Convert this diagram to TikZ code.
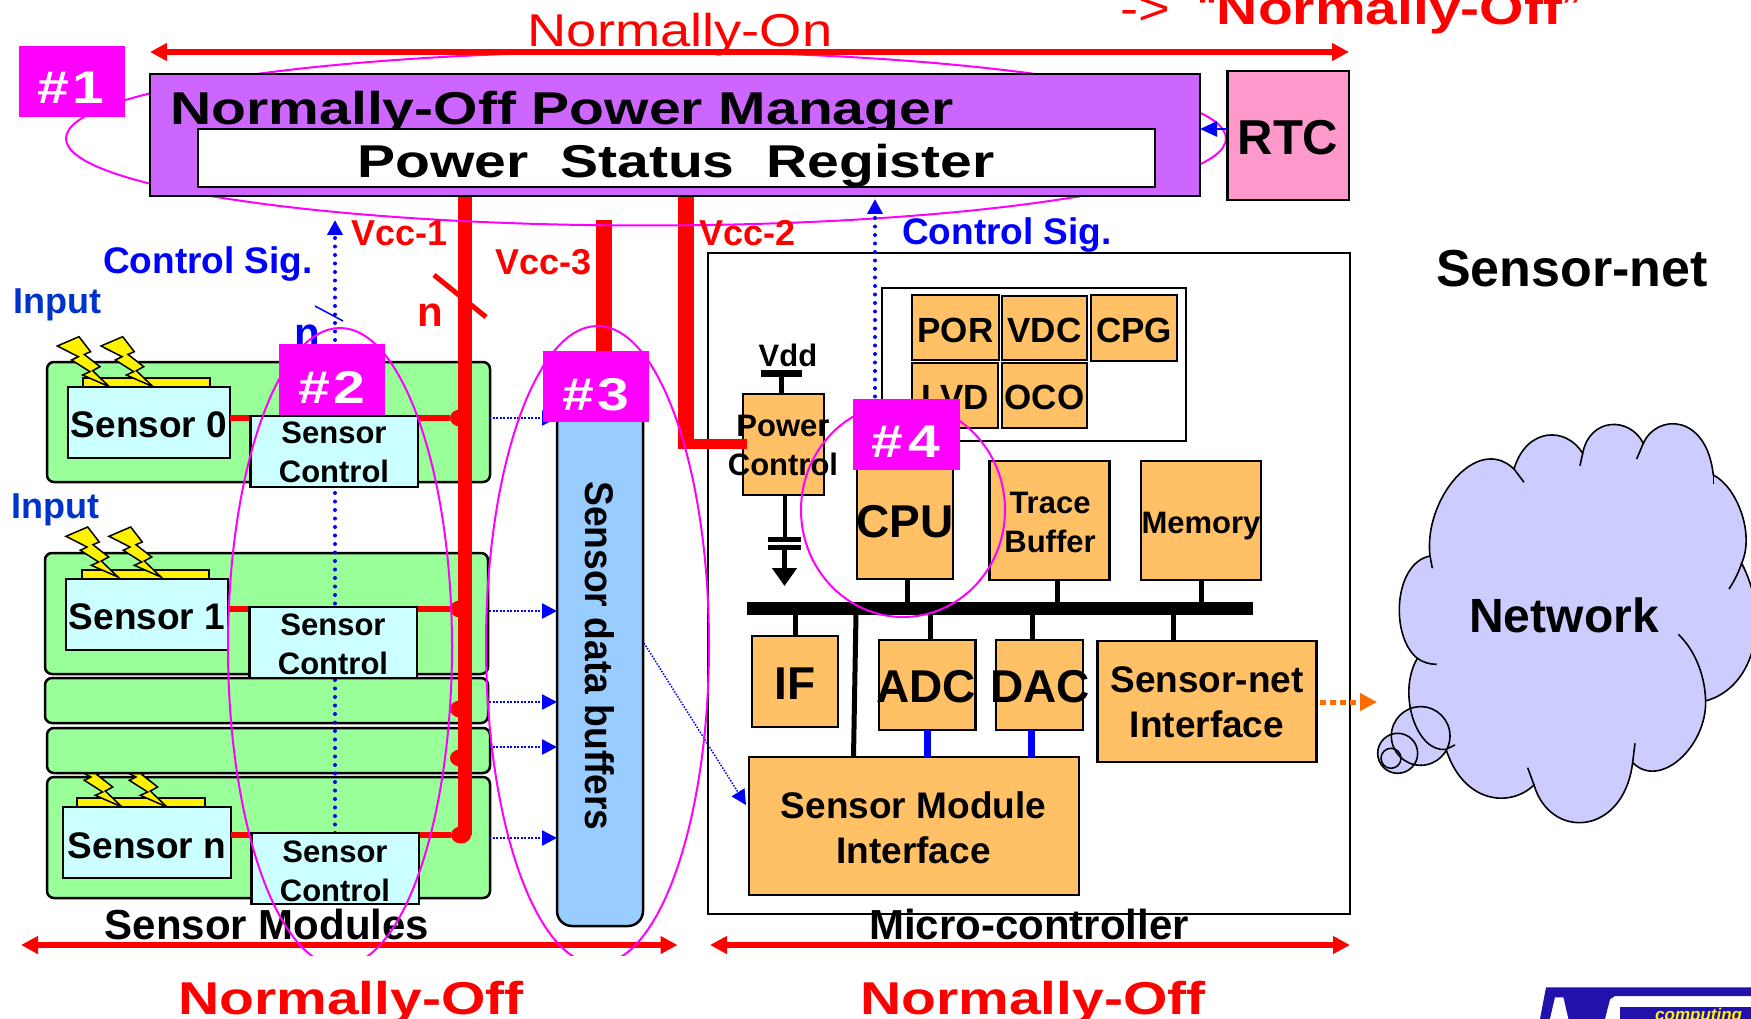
\documentclass[tikz,border=0pt]{standalone}
\usepackage{fontspec}
\setmainfont{Liberation Sans}
\newfontfamily\widefam[FakeStretch=1.24]{Liberation Sans}
\newfontfamily\thinfam[FakeStretch=1.18]{Liberation Sans}
\newfontfamily\narrowfam[FakeStretch=.93]{Liberation Sans}
\usetikzlibrary{arrows.meta,shapes.geometric}
\definecolor{hotmag}{RGB}{255,0,255}
\definecolor{pmfill}{RGB}{204,102,255}
\definecolor{rtcfill}{RGB}{255,153,204}
\definecolor{modfill}{RGB}{153,255,153}
\definecolor{senfill}{RGB}{204,255,255}
\definecolor{buffill}{RGB}{153,204,255}
\definecolor{blkfill}{RGB}{255,192,102}
\definecolor{netfill}{RGB}{204,204,255}
\definecolor{inblue}{RGB}{0,51,204}
\definecolor{logoblue}{RGB}{34,17,170}
\tikzset{
  bx/.style={draw=black,line width=2.5pt,inner sep=0pt,outer sep=0pt},
  modbox/.style={bx,fill=modfill,rounded corners=7pt},
  senbox/.style={bx,fill=senfill},
  blkbox/.style={bx,fill=blkfill},
  tagbox/.style={fill=hotmag,inner sep=0pt,outer sep=0pt},
  lab/.style={anchor=base,inner sep=0pt,outer sep=0pt,font=\bfseries\fontsize{37}{45}\selectfont},
  labsm/.style={lab,font=\bfseries\fontsize{31}{38.5}\selectfont},
  labpor/.style={lab,font=\bfseries\fontsize{35}{40}\selectfont},
  labbig/.style={lab,font=\bfseries\fontsize{46}{50}\selectfont},
  labwide/.style={lab,font=\widefam\bfseries\fontsize{46}{50}\selectfont},
  tagtxt/.style={labwide,text=white},
  vccline/.style={draw=red,line width=14pt},
  wire/.style={draw=red,line width=6pt},
  junct/.style={ellipse,fill=red,minimum width=20pt,minimum height=17pt,inner sep=0pt},
  redspan/.style={draw=red,line width=6pt,{Triangle[length=17pt,width=17pt]}-{Triangle[length=17pt,width=17pt]}},
  ctrlsig/.style={draw=blue,line width=4pt,line cap=round,dash pattern=on 0pt off 8.5pt,-{Triangle[length=15pt,width=15pt]}},
  dataline/.style={draw=blue,line width=2.5pt,dash pattern=on 2pt off 1.5pt,-{Triangle[length=15pt,width=15pt]}},
  stub/.style={draw=black,line width=5pt},
  halo/.style={draw=hotmag,line width=2pt},
  cloudln/.style={draw=black,line width=1.6pt},
  bolt/.pic={\draw[fill=yellow,line width=1.5pt,line join=miter] (-52,-40.7) -- (-30.3,-50) -- (-18.7,-35) -- (-25,-32.3) -- (-9.3,-20) -- (-16.7,-16) -- (0,0) -- (-26.7,-11.7) -- (-19.3,-15) -- (-37.7,-26.7) -- (-31,-30) -- cycle;}
}
\newcommand{\blk}[6]{\node[#1,minimum width={(#5-#3)*1pt},minimum height={(#6-#4)*1pt}] (#2) at ({(#3+#5)/2},{(#4+#6)/2}) {};}
\begin{document}
\begin{tikzpicture}[x=1pt,y=-1pt]
\useasboundingbox (0,0) rectangle (1751,1019);
\clip (0,0) rectangle (1751,1019);
% sensor modules
\blk{modbox}{modzero}{47}{362}{490}{482}
\blk{modbox}{modone}{45}{553}{488}{674}
\blk{modbox}{modtwo}{45}{678}{488}{723}
\blk{modbox}{modn}{47}{777}{490}{898}
\blk{bx,fill=yellow}{platen}{77}{798}{205}{808}
\pic at (122,807) {bolt};
\pic at (167,807) {bolt};
\blk{modbox}{modthree}{47}{728}{490}{773}
\blk{bx,fill=yellow}{platezero}{83}{378}{210}{388}
\blk{bx,fill=yellow}{plateone}{82}{570}{209}{580}
\pic at (109.3,386.7) {bolt};
\pic at (153,386.7) {bolt};
\pic at (118,577) {bolt};
\pic at (161,577) {bolt};
\blk{senbox}{senzero}{68}{387}{230}{458}
\blk{senbox}{senone}{66}{579}{228}{650}
\blk{senbox}{senn}{63}{807}{231}{878}
% micro-controller
\blk{bx,fill=white}{mcu}{708}{253}{1350}{914}
\blk{bx,fill=white}{sysbox}{882}{288}{1186}{441}
\blk{blkbox}{pwrctl}{743}{394}{824}{495}
% supply rails
\coordinate (vonetop) at (465,196);
\coordinate (vtwotop) at (686,196);
\coordinate (vtwobot) at (686,449);
\coordinate (vthrtop) at (603.5,220);
\coordinate (vthrbot) at (603.5,353);
\node[junct] (jzero) at (460,418) {};
\node[junct] (jone) at (460,609) {};
\node[junct] (jtwo) at (460,709) {};
\node[junct] (jthree) at (460,758) {};
\node[junct] (jn) at (461,835) {};
\draw[wire] (senzero.east |- jzero) -- (jzero);
\draw[wire] (senone.east |- jone) -- (jone);
\draw[wire] (senn.east |- jn) -- (jn);
\draw[vccline] (vonetop) -- (vonetop |- jn);
\draw[vccline,line width=16pt] (vthrtop) -- (vthrbot);
\draw[vccline,line width=16pt] (vtwotop) -- (vtwobot);
\draw[draw=red,line width=10pt] ([shift={(-8pt,5pt)}]vtwobot) -- ([shift={(4pt,5pt)}]vtwobot -| pwrctl.west);
\coordinate (nslasha) at (434,275);
\coordinate (nslashb) at (486,317);
\draw[draw=red,line width=5pt] (nslasha) -- (nslashb);
% control signals
\coordinate (ctlup) at (335,220);
\coordinate (ctldown) at (335,833);
\draw[ctrlsig] (ctldown) -- (ctlup);
\coordinate (bslasha) at (315,306);
\coordinate (bslashb) at (343,321);
\draw[draw=blue,line width=1.5pt] (bslasha) -- (bslashb);
\blk{senbox}{ctlzero}{250.5}{416}{418}{487}
\blk{senbox}{ctlone}{249.5}{607}{417}{678}
\blk{senbox}{ctln}{251.5}{833}{419}{904}
% power manager
\draw[halo] (646,138.5) ellipse [x radius=580pt,y radius=87pt];
\coordinate (nonleft) at (150,52);
\coordinate (nonright) at (1349,52);
\draw[redspan] (nonleft) -- (nonright);
\blk{bx,fill=pmfill}{pmgr}{150}{74}{1200}{196}
\node[labwide] (pmgrtxt) at (562,125) {Normally-Off Power Manager};
\blk{bx,fill=white}{psreg}{198}{129}{1155}{187}
\node[labwide] (psregtxt) at (676,178) {Power~~Status~~Register};
\blk{bx,fill=rtcfill}{rtc}{1227.5}{71}{1349}{200}
\coordinate (rtcout) at (1228,129);
\draw[draw=blue,line width=2.5pt,-{Triangle[length=17pt,width=15pt]}] (rtcout) -- (rtcout -| pmgr.east);
% data buffers
\blk{bx,fill=buffill,rounded corners=15pt}{dbuf}{557}{385}{643}{926}
\coordinate (dzero) at (489,418);
\coordinate (done) at (489,611);
\coordinate (dtwo) at (489,702);
\coordinate (dthree) at (489,747);
\coordinate (dn) at (489,838);
\draw[dataline] (dzero) -- (dzero -| dbuf.west);
\draw[dataline] (done) -- (done -| dbuf.west);
\draw[dataline] (dtwo) -- (dtwo -| dbuf.west);
\draw[dataline] (dthree) -- (dthree -| dbuf.west);
\draw[dataline] (dn) -- (dn -| dbuf.west);
\coordinate (bufout) at (644,643);
\coordinate (smiin) at (746,805);
\draw[dataline,line width=1.5pt,dash pattern=on 1.5pt off 1.5pt] (bufout) -- (smiin);
% cpu side
\coordinate (sysup) at (875,199);
\coordinate (sysdown) at (875,473);
\draw[ctrlsig] (sysdown) -- (sysup);
\blk{blkbox}{por}{912}{295}{999}{360}
\blk{blkbox}{vdc}{1002}{296}{1087}{360}
\blk{blkbox}{cpg}{1091}{295}{1177}{361}
\blk{blkbox}{lvd}{912}{363}{998}{428}
\blk{blkbox}{oco}{1002}{363}{1087}{428}
\blk{blkbox}{cpu}{857}{462}{953}{579}
\blk{blkbox}{trace}{989.5}{461}{1109.5}{580}
\blk{blkbox}{memory}{1141}{461}{1261}{580}
\blk{draw=black,fill=black}{bus}{747}{602}{1252}{614}
\blk{blkbox}{ifblk}{752}{636}{838}{727}
\blk{blkbox}{adc}{879}{640}{975.5}{730}
\blk{blkbox}{dac}{996}{640}{1083}{730}
\blk{blkbox}{netif}{1097.5}{641}{1316.5}{762}
\blk{blkbox}{smi}{749}{757}{1079}{895}
\draw[stub] ([xshift=2pt]cpu.south) -- ([xshift=2pt]cpu.south |- bus.north);
\draw[stub] ([xshift=8pt]trace.south) -- ([xshift=8pt]trace.south |- bus.north);
\draw[stub] (memory.south) -- (memory.south |- bus.north);
\draw[stub] (bus.south -| ifblk.north) -- (ifblk.north);
\draw[stub] ([xshift=3pt]bus.south -| adc.north) -- ([xshift=3pt]adc.north);
\draw[stub] ([xshift=-7pt]bus.south -| dac.north) -- ([xshift=-7pt]dac.north);
\draw[stub] ([xshift=-34pt]bus.south -| netif.north) -- ([xshift=-34pt,yshift=-1pt]netif.north);
\coordinate (smibus) at (856,614);
\coordinate (smitop) at (853.5,757);
\draw[stub] (smibus) -- (smitop);
\draw[draw=blue,line width=7pt] (adc.south) -- (adc.south |- smi.north);
\draw[draw=blue,line width=7pt] ([xshift=-8pt]dac.south) -- ([xshift=-8pt]dac.south |- smi.north);
% vdd and ground
\coordinate (vddbar) at (781,373.5);
\coordinate (capleft) at (784.5,537);
\coordinate (capright) at (784.5,550);
\coordinate (gndtip) at (784.5,586);
\draw[draw=black,line width=7pt] (761,373.5) -- (802,373.5);
\draw[stub] (vddbar) -- (vddbar |- pwrctl.north);
\draw[stub,line width=4pt] (capleft |- pwrctl.south) -- (capleft);
\draw[draw=black,line width=5pt] (768,539.5) -- (801,539.5);
\draw[draw=black,line width=5pt] (768,547.5) -- (801,547.5);
\draw[stub,-{Triangle[length=18pt,width=24pt]}] (capright) -- (gndtip);
% outward arrow
\coordinate (netout) at (1320,702);
\coordinate (netin) at (1377,702);
\draw[draw=orange!85!red,line width=5pt,dash pattern=on 6pt off 4pt,-{Triangle[length=17pt,width=17pt]}] (netout) -- (netin);
% network cloud
\begin{scope}[shift={(1360,400)},x=0.3333pt,y=-0.3333pt]
\fill[netfill] (182,1008) circle [radius=88pt*0.3333];
\fill[netfill] (113,1060) circle [radius=60pt*0.3333];
\draw[cloudln,fill=netfill] (172,775) .. controls (90,710) and (100,490) .. (210,468) .. controls (190,300) and (350,100) .. (462,207) .. controls (500,80) and (620,80) .. (668,160) .. controls (690,50) and (810,50) .. (850,130) .. controls (890,40) and (1040,40) .. (1060,225) .. controls (1130,260) and (1185,400) .. (1145,490) .. controls (1230,650) and (1190,860) .. (1037,903) .. controls (1040,1040) and (900,1170) .. (818,1088) .. controls (790,1310) and (570,1320) .. (522,1155) .. controls (450,1225) and (310,1210) .. (258,1048) .. controls (170,1060) and (110,880) .. (172,775) -- cycle;
\draw[cloudln] (210,468) -- (217,505);
\draw[cloudln] (462,207) -- (492,247);
\draw[cloudln] (668,160) -- (660,197);
\draw[cloudln] (850,130) -- (830,177);
\draw[cloudln] (1060,225) -- (1060,252);
\draw[cloudln] (1145,490) .. controls (1135,520) and (1120,548) .. (1107,567);
\draw[cloudln] (1037,903) .. controls (1035,820) and (1000,745) .. (955,703);
\draw[cloudln] (818,1088) -- (825,1030);
\draw[cloudln] (522,1155) -- (503,1103);
\draw[cloudln] (258,1048) -- (285,1035);
\draw[cloudln] (172,775) .. controls (190,788) and (210,793) .. (230,793);
\draw[cloudln] (182,1008) circle [radius=88pt*0.3333];
\draw[cloudln] (113,1060) circle [radius=60pt*0.3333];
\draw[cloudln] (93,1075) circle [radius=30pt*0.3333];
\end{scope}
% texts
\node[lab,text=red,font=\thinfam\fontsize{46}{50}\selectfont] (nontxt) at (680,47) {Normally-On};
\node[labwide,text=red,anchor=base west] (nofftop) at (1120,25) {{\thinfam\mdseries ->\hspace{29pt}“}Normally-Off{\thinfam\mdseries ”}};
\node[lab,text=blue] (ctltxt) at (208,273) {Control Sig.};
\node[lab,text=blue] (systxt) at (1007,244.5) {Control Sig.};
\node[lab,text=inblue,font=\bfseries\fontsize{36}{40}\selectfont] (inzero) at (57,313) {Input};
\node[lab,text=inblue,font=\bfseries\fontsize{36}{40}\selectfont] (inone) at (55,518) {Input};
\node[lab,text=red,font=\bfseries\fontsize{36}{40}\selectfont] (vcconetxt) at (399.5,245) {Vcc-1};
\node[lab,text=red,font=\bfseries\fontsize{36}{40}\selectfont] (vcctwotxt) at (747.5,245) {Vcc-2};
\node[lab,text=red,font=\bfseries\fontsize{36}{40}\selectfont] (vccthrtxt) at (543.5,274) {Vcc-3};
\node[lab,text=red,font=\bfseries\fontsize{42}{46}\selectfont] (nred) at (430,326) {n};
\node[lab,text=blue,font=\bfseries\fontsize{42}{46}\selectfont] (nblue) at (307,347) {n};
\node[lab] (senzerotxt) at (149,437) {Sensor 0};
\node[lab] (senonetxt) at (147,629) {Sensor 1};
\node[lab] (senntxt) at (147,858) {Sensor n};
\node[labsm,align=center] (ctlzerotxt) at (334,482) {Sensor\\Control};
\node[labsm,align=center] (ctlonetxt) at (333,674) {Sensor\\Control};
\node[labsm,align=center] (ctlntxt) at (335,901) {Sensor\\Control};
\node[lab,rotate=-90,font=\narrowfam\bfseries\fontsize{40}{45}\selectfont] (dbuftxt) at (585,656) {Sensor data buffers};
\node[labsm,align=center] (pwrtxt) at (783,475) {Power\\Control};
\node[labsm] (vddtxt) at (788,366) {Vdd};
\node[labpor] (portxt) at (955.5,342) {POR};
\node[labpor] (vdctxt) at (1044.5,342) {VDC};
\node[labpor] (cpgtxt) at (1134,342) {CPG};
\node[labpor] (lvdtxt) at (955,409) {LVD};
\node[labpor] (ocotxt) at (1044.5,409) {OCO};
\node[labbig] (cputxt) at (905,537) {CPU};
\node[labsm,align=center] (tracetxt) at (1050,552) {Trace\\Buffer};
\node[labsm] (memtxt) at (1201,533) {Memory};
\node[labbig] (iftxt) at (795,699) {IF};
\node[labbig] (adctxt) at (926,702) {ADC};
\node[labbig] (dactxt) at (1040,702) {DAC};
\node[lab,align=center] (netiftxt) at (1207,737) {Sensor-net\\Interface};
\node[lab,align=center] (smitxt) at (913.5,863) {Sensor Module\\Interface};
\node[lab,font=\bfseries\fontsize{52}{56}\selectfont] (netsec) at (1572,287) {Sensor-net};
\node[lab,font=\bfseries\fontsize{48}{52}\selectfont] (nettxt) at (1564,632) {Network};
\node[lab,font=\bfseries\fontsize{49}{52}\selectfont] (rtctxt) at (1288,155) {RTC};
\node[lab,font=\bfseries\fontsize{42}{46}\selectfont] (modtxt) at (267,939) {Sensor Modules};
\node[lab,font=\bfseries\fontsize{42}{46}\selectfont] (mcutxt) at (1029,939) {Micro-controller};
\coordinate (offla) at (21,945);
\coordinate (offlb) at (677.5,945);
\coordinate (offra) at (710,945);
\coordinate (offrb) at (1350,945);
\draw[redspan] (offla) -- (offlb);
\draw[redspan] (offra) -- (offrb);
\node[labwide,text=red] (offl) at (351,1014) {Normally-Off};
\node[labwide,text=red] (offr) at (1033,1014) {Normally-Off};
% highlight rings
\begin{scope}
\clip (0,0) rectangle (1751,955);
\draw[halo] (340,647) ellipse [x radius=112pt,y radius=319pt];
\draw[halo] (597.5,645) ellipse [x radius=111.5pt,y radius=319pt];
\end{scope}
\draw[halo] (903,510) ellipse [x radius=102pt,y radius=107pt];
\blk{tagbox}{tagone}{19}{46}{125}{117}
\blk{tagbox}{tagtwo}{279}{344}{385}{415}
\blk{tagbox}{tagthr}{543}{351}{649}{422}
\blk{tagbox}{tagfour}{853}{399}{960}{470}
\node[tagtxt] (tagonetxt) at (71,104) {\#\kern4pt 1};
\node[tagtxt] (tagtwotxt) at (332,403) {\#\kern4pt 2};
\node[tagtxt] (tagthrtxt) at (596,410) {\#\kern4pt 3};
\node[tagtxt] (tagfourtxt) at (906,457) {\#\kern6pt 4};
% logo
\begin{scope}[shift={(1500,960)},x=0.3333pt,y=-0.3333pt]
\fill[logoblue] (120,177) -- (138,82) -- (753,82) -- (753,108) -- (345,108) -- (330,118) -- (315,177) -- cycle;
\fill[white] (150,177) -- (165,112) -- (190,112) -- (205,177) -- cycle;
\fill[logoblue] (360,140) rectangle (753,177);
\node[text=yellow,anchor=base west,inner sep=0pt,font=\bfseries\itshape\fontsize{17}{18}\selectfont] (logotxt) at (465,180) {computing};
\end{scope}
\end{tikzpicture}
\end{document}
